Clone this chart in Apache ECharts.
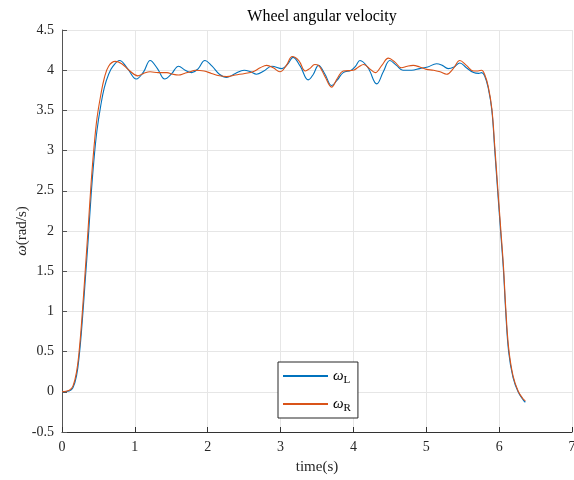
<!DOCTYPE html>
<html><head><meta charset="utf-8">
<script src="https://cdn.jsdelivr.net/npm/echarts@6/dist/echarts.min.js"></script>
<style>html,body{margin:0;padding:0;background:#fff;overflow:hidden}#c{width:574px;height:480px}</style>
</head><body><div id="c"></div>
<script>
const xTicks = [0,1,2,3,4,5,6,7];
const yTicks = [-0.5,0,0.5,1,1.5,2,2.5,3,3.5,4,4.5];

const tL = [0,0.10,0.15,0.20,0.24,0.28,0.32,0.36,0.40,0.44,0.48,0.53,0.58,0.64,0.70,0.79,0.90,1.02,1.12,1.21,1.31,1.41,1.50,1.60,1.69,1.78,1.87,1.96,2.06,2.16,2.26,2.38,2.50,2.59,2.67,2.77,2.88,3.02,3.10,3.17,3.27,3.38,3.45,3.52,3.61,3.70,3.78,3.86,3.97,4.03,4.09,4.20,4.32,4.41,4.50,4.59,4.68,4.80,4.91,5.02,5.14,5.22,5.30,5.38,5.46,5.55,5.65,5.72,5.76,5.80,5.85,5.90,5.94,5.99,6.02,6.06,6.09,6.13,6.19,6.26,6.33,6.36];
const wL = [0,0.01,0.05,0.2,0.48,0.9,1.4,1.9,2.45,2.9,3.25,3.55,3.78,3.95,4.05,4.12,4.02,3.89,3.98,4.12,4.02,3.89,3.95,4.05,4.0,3.97,4.02,4.12,4.05,3.95,3.91,3.96,4.0,3.98,3.95,3.99,4.05,4.02,4.08,4.16,4.05,3.88,3.95,4.06,3.95,3.81,3.88,3.97,4.0,4.05,4.12,4.03,3.83,3.98,4.12,4.06,4.0,4.0,4.02,4.04,4.08,4.06,4.02,4.04,4.09,4.03,3.97,3.96,3.97,3.93,3.78,3.5,3.0,2.37,2.0,1.5,1.0,0.5,0.18,0.0,-0.1,-0.13];

const tR = [0,0.10,0.15,0.20,0.24,0.28,0.32,0.36,0.40,0.44,0.48,0.53,0.58,0.64,0.73,0.82,0.92,1.04,1.12,1.21,1.32,1.44,1.52,1.60,1.68,1.76,1.83,1.95,2.05,2.16,2.26,2.38,2.51,2.62,2.72,2.81,2.90,2.99,3.08,3.16,3.25,3.34,3.40,3.47,3.52,3.61,3.70,3.78,3.86,4.00,4.07,4.14,4.22,4.30,4.39,4.48,4.57,4.66,4.74,4.82,4.91,5.00,5.10,5.19,5.28,5.37,5.46,5.55,5.65,5.71,5.76,5.80,5.85,5.90,5.94,5.99,6.02,6.06,6.09,6.13,6.19,6.26,6.33,6.36];
const wR = [0,0.02,0.07,0.25,0.55,1.0,1.52,2.05,2.6,3.05,3.4,3.68,3.9,4.05,4.11,4.08,4.0,3.93,3.96,3.98,3.97,3.97,3.95,3.94,3.96,3.98,4.0,3.99,3.96,3.93,3.92,3.94,3.96,3.98,4.03,4.06,4.03,3.98,4.06,4.17,4.12,3.99,4.02,4.07,4.06,3.92,3.79,3.9,3.99,4.0,4.04,4.07,4.02,3.97,4.06,4.15,4.1,4.03,4.05,4.06,4.04,4.01,4.0,3.98,3.95,4.02,4.12,4.06,3.99,3.99,4.0,3.95,3.8,3.52,3.05,2.42,2.05,1.55,1.05,0.55,0.2,0.01,-0.09,-0.11];

const seriesNames = ['ωL','ωR'];
const colors = ['#0072BD','#D95319'];

const pair = (t, w) => t.map((x, i) => [x, w[i]]);
const serif = 'Liberation Serif';

const chart = echarts.init(document.getElementById('c'), null, {renderer: 'canvas', width: 574, height: 480});
chart.setOption({
  animation: false,
  backgroundColor: '#fff',
  title: {
    text: 'Wheel angular velocity', left: 317, top: 4, textAlign: 'center',
    textStyle: {fontFamily: serif, fontSize: 16, fontWeight: 'normal', color: '#000'}
  },
  grid: {left: 62, right: 2, top: 30, bottom: 48, containLabel: false, outerBoundsMode: 'none'},
  xAxis: {
    type: 'value', min: xTicks[0], max: xTicks[xTicks.length-1], interval: 1,
    name: 'time(s)', nameLocation: 'middle', nameGap: 28, nameMoveOverlap: false,
    nameTextStyle: {fontFamily: serif, fontSize: 15, color: '#262626'},
    axisLine: {onZero: false, lineStyle: {color: '#333', width: 1}},
    axisTick: {inside: true, length: 5, lineStyle: {color: '#333'}},
    axisLabel: {fontFamily: serif, fontSize: 14, color: '#262626', margin: 8},
    splitLine: {show: true, lineStyle: {color: '#e6e6e6', width: 1}}
  },
  yAxis: {
    type: 'value', min: yTicks[0], max: yTicks[yTicks.length-1], interval: 0.5,
    name: '{i|ω}(rad/s)', nameLocation: 'middle', nameGap: 32, nameRotate: 90, nameMoveOverlap: false,
    nameTextStyle: {fontFamily: serif, fontSize: 15, color: '#262626',
      rich: {i: {fontFamily: serif, fontSize: 15, fontStyle: 'italic', color: '#262626'}}},
    axisLine: {show: true, onZero: false, lineStyle: {color: '#555', width: 1}},
    axisTick: {show: true, inside: true, length: 5, lineStyle: {color: '#555'}},
    axisLabel: {fontFamily: serif, fontSize: 14, color: '#262626', margin: 8},
    splitLine: {show: true, lineStyle: {color: '#e6e6e6', width: 1}}
  },
  legend: {
    left: 278, top: 362, orient: 'vertical',
    data: seriesNames.map(n => ({name: n, icon: 'rect'})),
    itemWidth: 45, itemHeight: 2, itemGap: 8,
    backgroundColor: '#fff', borderColor: '#262626', borderWidth: 1,
    padding: [4, 7, 4, 5],
    formatter: n => '{w|ω}{s|' + n.slice(1) + '}',
    textStyle: {
      fontFamily: serif, color: '#000',
      rich: {
        w: {fontFamily: serif, fontSize: 15, fontStyle: 'italic', color: '#000', lineHeight: 18},
        s: {fontFamily: serif, fontSize: 11, color: '#000', padding: [9, 0, 0, 0], lineHeight: 18}
      }
    }
  },
  series: [
    {name: seriesNames[0], type: 'line', data: pair(tL, wL), smooth: 0.4, symbol: 'none',
     lineStyle: {color: colors[0], width: 1.1}, itemStyle: {color: colors[0]}},
    {name: seriesNames[1], type: 'line', data: pair(tR, wR), smooth: 0.4, symbol: 'none',
     lineStyle: {color: colors[1], width: 1.1}, itemStyle: {color: colors[1]}}
  ]
});
</script></body></html>
